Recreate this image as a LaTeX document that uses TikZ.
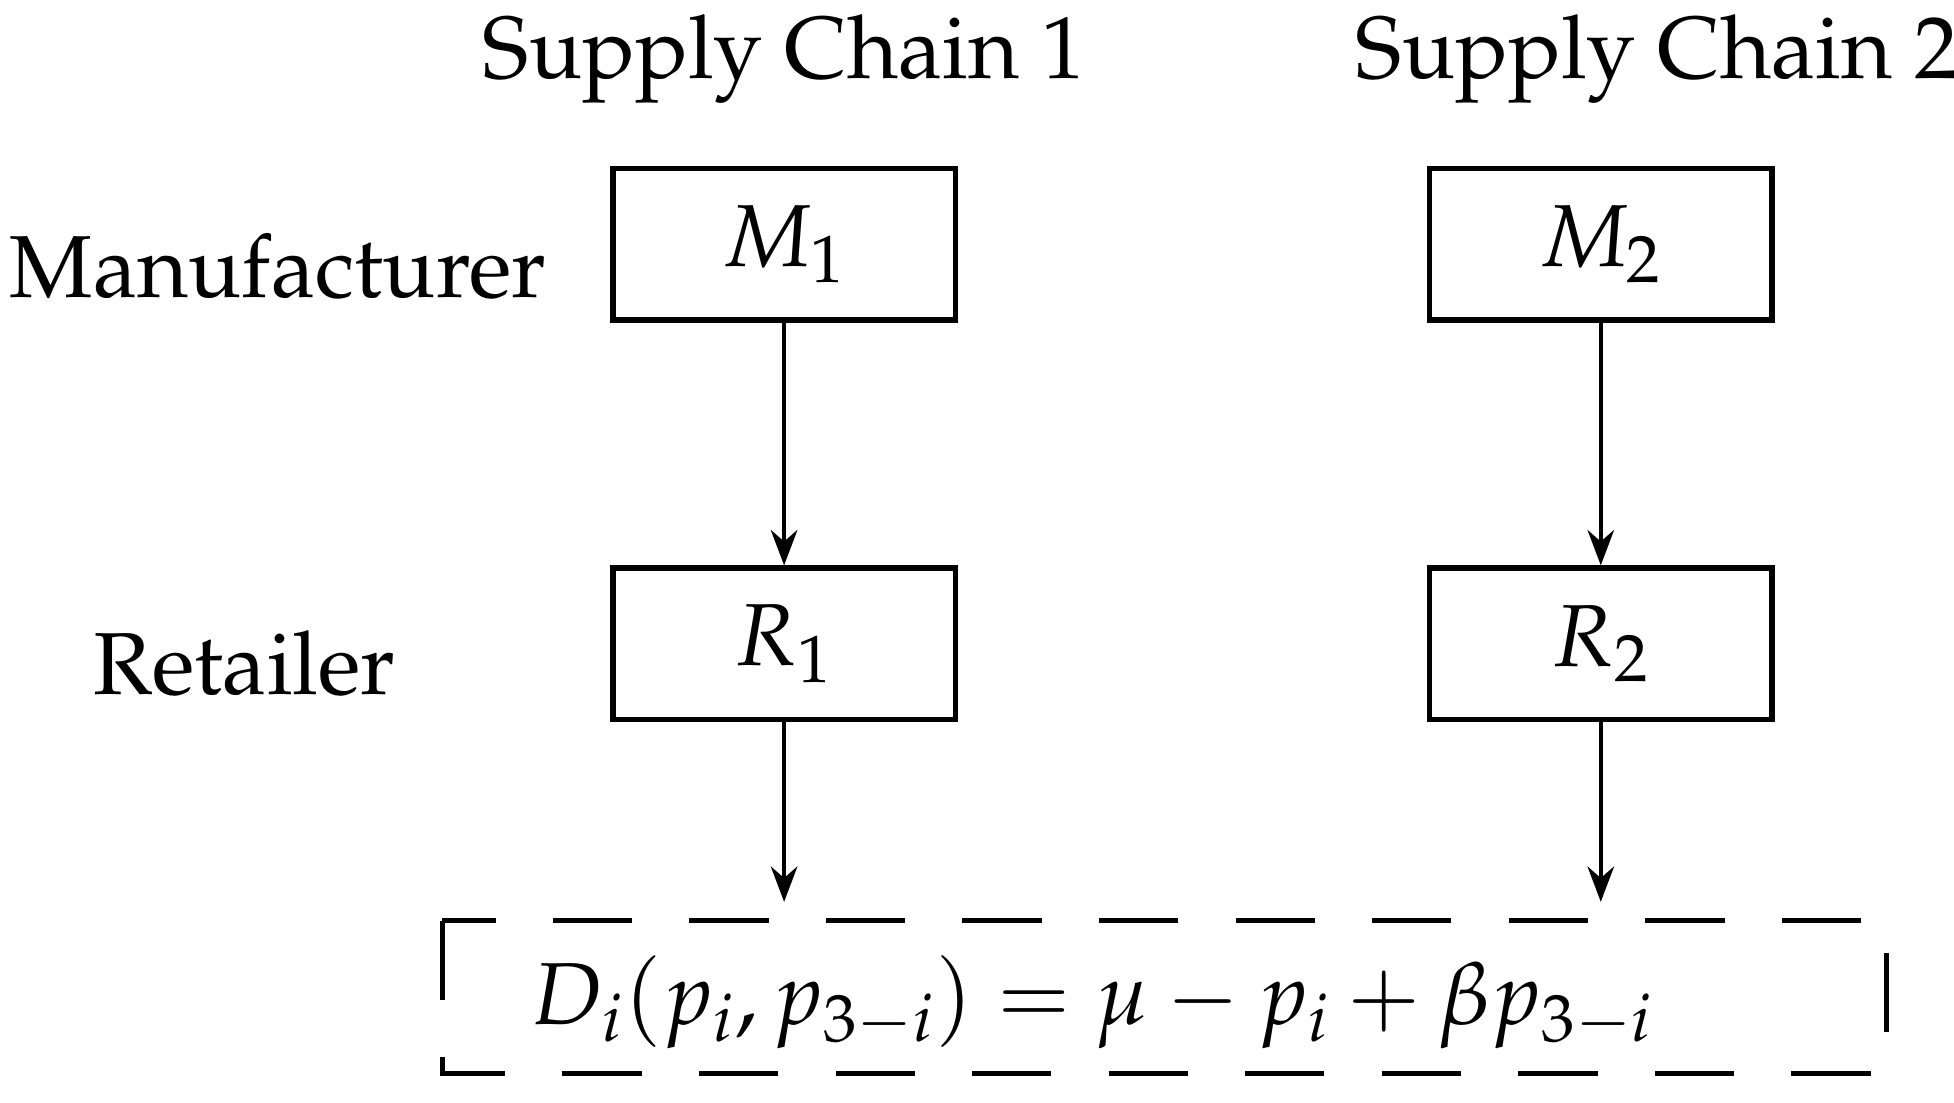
\documentclass[tikz,border=0pt]{standalone}
\usepackage[T1]{fontenc}
\usepackage{mathpazo}
\usetikzlibrary{arrows.meta}
\begin{document}
\begin{tikzpicture}[x=0.01cm,y=-0.01cm,
  box/.style={draw,line width=1.2pt,minimum width=2.73cm,minimum height=1.21cm,inner sep=0pt,font=\fontsize{20}{24}\selectfont},
  lab/.style={font=\fontsize{20}{24}\selectfont},
  arr/.style={-{Stealth[length=8pt,width=6pt]},line width=1pt}]
\useasboundingbox (0,0) rectangle (1560,880);
\node[lab] (t1) at (626,47) {Supply Chain 1};
\node[lab] (t2) at (1323,47) {Supply Chain 2};
\node[lab] (lm) at (222,213) {Manufacturer};
\node[lab] (lr) at (195,530) {Retailer};
\node[box] (m1) at (626,195) {$M_1$};
\node[box] (m2) at (1278,195) {$M_2$};
\node[box] (r1) at (626,514) {$R_1$};
\node[box] (r2) at (1278,514) {$R_2$};
\draw[dashed,dash pattern=on 18pt off 13pt,line width=1.2pt] (353,735) rectangle (1506,857);
\node[lab] (d) at (872,800) {$D_i(p_i,p_{3-i})=\mu-p_i+\beta p_{3-i}$};
\coordinate (e1) at (626,720);
\coordinate (e2) at (1278,720);
\draw[arr] (m1) -- (r1);
\draw[arr] (m2) -- (r2);
\draw[arr] (r1) -- (e1);
\draw[arr] (r2) -- (e2);
\end{tikzpicture}
\end{document}
